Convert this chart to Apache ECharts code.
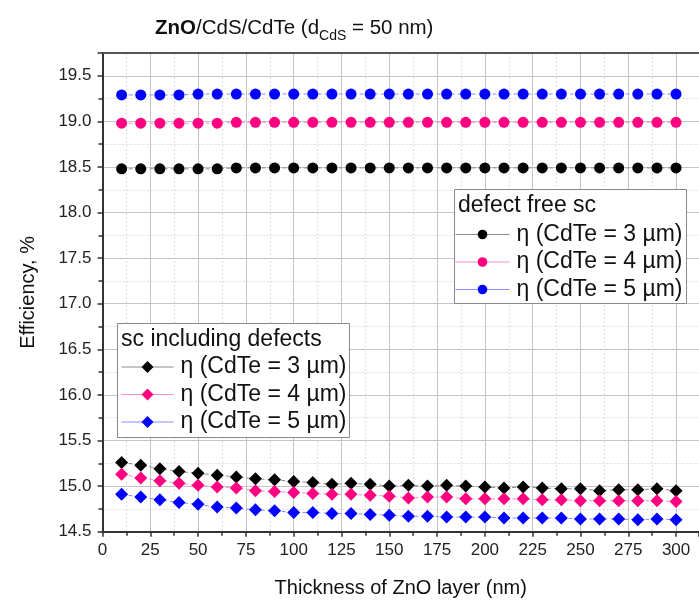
<!DOCTYPE html>
<html>
<head>
<meta charset="utf-8">
<script src="https://cdn.jsdelivr.net/npm/echarts@6/dist/echarts.min.js"></script>
<style>
  html, body { margin: 0; padding: 0; background: #fff; }
  #chart { width: 699px; height: 606px; }
</style>
</head>
<body>
<div id="chart"></div>
<script>
// ZnO thickness (nm)
const thickness = [10, 20, 30, 40, 50, 60, 70, 80, 90, 100,
  110, 120, 130, 140, 150, 160, 170, 180, 190, 200,
  210, 220, 230, 240, 250, 260, 270, 280, 290, 300]

// defect free solar cell
const free3 = [18.48, 18.48, 18.48, 18.48, 18.48, 18.48, 18.49, 18.49, 18.49, 18.49,
  18.49, 18.49, 18.49, 18.49, 18.49, 18.49, 18.49, 18.49, 18.49, 18.49,
  18.49, 18.49, 18.49, 18.49, 18.49, 18.49, 18.49, 18.49, 18.49, 18.49]
const free4 = [18.98, 18.98, 18.98, 18.98, 18.98, 18.98, 18.99, 18.99, 18.99, 18.99,
  18.99, 18.99, 18.99, 18.99, 18.99, 18.99, 18.99, 18.99, 18.99, 18.99,
  18.99, 18.99, 18.99, 18.99, 18.99, 18.99, 18.99, 18.99, 18.99, 18.99]
const free5 = [19.29, 19.29, 19.29, 19.29, 19.30, 19.30, 19.30, 19.30, 19.30, 19.30,
  19.30, 19.30, 19.30, 19.30, 19.30, 19.30, 19.30, 19.30, 19.30, 19.30,
  19.30, 19.30, 19.30, 19.30, 19.30, 19.30, 19.30, 19.30, 19.30, 19.30]

// solar cell including defects
const def3 = [15.26, 15.23, 15.19, 15.16, 15.14, 15.12, 15.10, 15.08, 15.07, 15.05,
  15.04, 15.02, 15.03, 15.02, 15.00, 15.01, 15.00, 15.01, 15.00, 14.99,
  14.98, 14.99, 14.98, 14.97, 14.97, 14.95, 14.96, 14.96, 14.97, 14.95]
const def4 = [15.13, 15.09, 15.06, 15.03, 15.01, 14.99, 14.98, 14.95, 14.94, 14.93,
  14.92, 14.91, 14.91, 14.90, 14.89, 14.87, 14.88, 14.88, 14.86, 14.86,
  14.86, 14.86, 14.85, 14.85, 14.84, 14.84, 14.84, 14.84, 14.84, 14.83]
const def5 = [14.91, 14.88, 14.85, 14.82, 14.80, 14.77, 14.76, 14.74, 14.73, 14.71,
  14.71, 14.70, 14.70, 14.69, 14.68, 14.67, 14.67, 14.66, 14.66, 14.66,
  14.65, 14.65, 14.65, 14.65, 14.64, 14.64, 14.64, 14.63, 14.64, 14.63]

const FONT = 'Liberation Sans, Arial, sans-serif'

const labels = {
  free3: 'η (CdTe = 3 µm)', free4: 'η (CdTe = 4 µm)', free5: 'η (CdTe = 5 µm)',
  def3: 'η (CdTe = 3 µm)', def4: 'η (CdTe = 4 µm)', def5: 'η (CdTe = 5 µm)'
}

const lineColors = { black: '#8c8c8c', pink: '#ff8cc6', blue: '#8c8cff' }

const pair = (ys) => thickness.map((x, i) => [x, ys[i]])

const makeSeries = (name, ys, color, lineColor, symbol, size) => ({
  name,
  type: 'line',
  data: pair(ys),
  symbol,
  symbolSize: size,
  showSymbol: true,
  z: 3,
  itemStyle: { color },
  lineStyle: { color: lineColor, width: 1, type: [4, 3] },
  emphasis: { disabled: true },
  animation: false
})

const chart = echarts.init(document.getElementById('chart'))

const legendBase = {
  orient: 'vertical',
  itemWidth: 54,
  itemHeight: 12,
  itemGap: 4.5,
  z: 10,
  formatter: (n) => labels[n],
  textStyle: { fontFamily: FONT, fontSize: 23, color: '#111', padding: [0, 0, 0, 2] },
  selectedMode: false,
  padding: 0
}

const legendItem = (name, lineColor) => ({ name, lineStyle: { color: lineColor, type: 'solid', width: 1 } })

const option = {
  backgroundColor: '#fff',
  textStyle: { fontFamily: FONT },
  title: {
    text: '{b|ZnO}{n|/CdS/CdTe (d}{s|CdS}{n| = 50 nm)}',
    left: 155,
    top: 13,
    padding: 0,
    textStyle: {
      fontWeight: 'normal',
      rich: {
        b: { fontFamily: FONT, fontSize: 20.5, fontWeight: 'bold', color: '#111' },
        n: { fontFamily: FONT, fontSize: 20.5, fontWeight: 'normal', color: '#111' },
        s: { fontFamily: FONT, fontSize: 14, fontWeight: 'normal', color: '#111', padding: [16, 0, 0, 0] }
      }
    }
  },
  grid: { left: 102.5, right: 0, top: 53, bottom: 74.3, containLabel: false },
  legend: [
    Object.assign({}, legendBase, {
      left: 455, top: 223,
      data: [legendItem('free3', lineColors.black), legendItem('free4', lineColors.pink), legendItem('free5', lineColors.blue)]
    }),
    Object.assign({}, legendBase, {
      left: 121, itemWidth: 52, itemHeight: 15, top: 355.5,
      data: [legendItem('def3', lineColors.black), legendItem('def4', lineColors.pink), legendItem('def5', lineColors.blue)]
    })
  ],
  graphic: [
    { type: 'rect', z: 5, shape: { x: 454.5, y: 189.5, width: 232, height: 114 },
      style: { fill: '#fff', stroke: '#888', lineWidth: 1 } },
    { type: 'text', z: 6, x: 458, y: 206,
      style: { text: 'defect free sc', font: '23px ' + FONT, fill: '#111', verticalAlign: 'middle' } },
    { type: 'rect', z: 5, shape: { x: 117.5, y: 323.5, width: 232, height: 114 },
      style: { fill: '#fff', stroke: '#888', lineWidth: 1 } },
    { type: 'text', z: 6, x: 121, y: 339.5,
      style: { text: 'sc including defects', font: '23px ' + FONT, fill: '#111', verticalAlign: 'middle' } }
  ],
  xAxis: [
    {
      type: 'value',
      min: 0,
      max: 312,
      interval: 25,
      name: 'Thickness of ZnO layer (nm)',
      nameLocation: 'middle',
      nameGap: 47,
      nameTextStyle: { fontFamily: FONT, fontSize: 20, color: '#111' },
      axisLine: { show: true, onZero: false, lineStyle: { color: '#333', width: 2 } },
      axisTick: { show: true, length: 5, lineStyle: { color: '#333', width: 1.5 } },
      minorTick: { show: true, splitNumber: 2, length: 4, lineStyle: { color: '#333', width: 1.5 } },
      axisLabel: { fontFamily: FONT, fontSize: 17, color: '#222', margin: 10, showMaxLabel: false },
      splitLine: { show: true, lineStyle: { color: '#c4c4c4', width: 1 } },
      minorSplitLine: { show: true, lineStyle: { color: '#dddddd', width: 1, type: [2, 2] } }
    },
    {
      type: 'value',
      position: 'top',
      min: 0,
      max: 312,
      axisLine: { show: true, onZero: false, lineStyle: { color: '#555', width: 2 } },
      axisTick: { show: false },
      axisLabel: { show: false },
      splitLine: { show: false }
    }
  ],
  yAxis: {
    type: 'value',
    min: 14.5,
    max: 19.75,
    interval: 0.5,
    name: 'Efficiency, %',
    nameLocation: 'middle',
    nameGap: 64,
    nameTextStyle: { fontFamily: FONT, fontSize: 20, color: '#111' },
    axisLine: { show: true, onZero: false, lineStyle: { color: '#333', width: 2 } },
    axisTick: { show: true, length: 5, lineStyle: { color: '#333', width: 1.5 } },
    minorTick: { show: true, splitNumber: 2, length: 4, lineStyle: { color: '#333', width: 1.5 } },
    axisLabel: {
      fontFamily: FONT, fontSize: 17, color: '#222', margin: 11, showMaxLabel: false,
      formatter: (v) => v.toFixed(1)
    },
    splitLine: { show: true, lineStyle: { color: '#c4c4c4', width: 1 } },
    minorSplitLine: { show: true, lineStyle: { color: '#dddddd', width: 1, type: [2, 2] } }
  },
  series: [
    makeSeries('free3', free3, '#000000', lineColors.black, 'circle', 11),
    makeSeries('free4', free4, '#ff0080', lineColors.pink, 'circle', 11),
    makeSeries('free5', free5, '#0000ff', lineColors.blue, 'circle', 11),
    makeSeries('def3', def3, '#000000', lineColors.black, 'diamond', 13),
    makeSeries('def4', def4, '#ff0080', lineColors.pink, 'diamond', 13),
    makeSeries('def5', def5, '#0000ff', lineColors.blue, 'diamond', 13)
  ]
}

chart.setOption(option)
</script>
</body>
</html>
